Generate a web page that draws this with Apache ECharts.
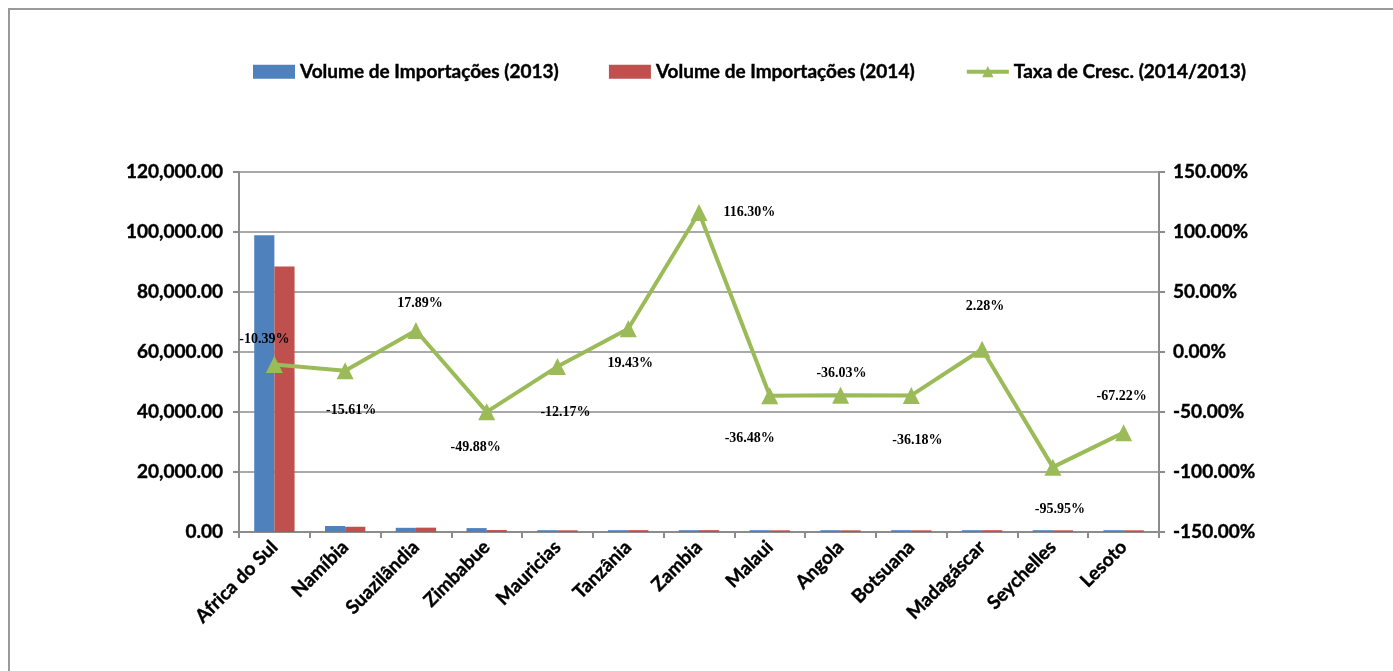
<!DOCTYPE html>
<html>
<head>
<meta charset="utf-8">
<script src="https://cdn.jsdelivr.net/npm/echarts@6/dist/echarts.min.js"></script>
<style>
  html, body { margin: 0; padding: 0; background: #fff; }
  #chart { width: 1393px; height: 671px; }
</style>
</head>
<body>
<div id="chart"></div>
<script>
// categorias (países)
const paises = ["Africa do Sul", "Namíbia", "Suazilândia", "Zimbabue", "Mauricias", "Tanzânia",
  "Zambia", "Malaui", "Angola", "Botsuana", "Madagáscar", "Seychelles", "Lesoto"];
// volume de importações
const vol2013 = [98900, 2000, 1400, 1300, 600, 600, 600, 600, 600, 600, 600, 600, 600];
const vol2014 = [88500, 1750, 1450, 650, 560, 620, 620, 560, 560, 560, 600, 560, 560];
// taxa de crescimento (%)
const taxa = [-10.39, -15.61, 17.89, -49.88, -12.17, 19.43, 116.30, -36.48, -36.03, -36.18, 2.28, -95.95, -67.22];
// posição dos rótulos da linha
const labelPos = [
  { position: "top", distance: 10, offset: [-10, 0] },
  { position: "bottom", distance: 24, offset: [6, 0] },
  { position: "top", distance: 12, offset: [4, 0] },
  { position: "bottom", distance: 20, offset: [-11, 0] },
  { position: "bottom", distance: 30, offset: [8, 0] },
  { position: "bottom", distance: 19, offset: [2, 0] },
  { position: "right", distance: 16, offset: [0, 0] },
  { position: "bottom", distance: 27, offset: [-20, 0] },
  { position: "top", distance: 6, offset: [1, 0] },
  { position: "bottom", distance: 29, offset: [6, 0] },
  { position: "top", distance: 27, offset: [3, 0] },
  { position: "bottom", distance: 27, offset: [7, 0] },
  { position: "top", distance: 21, offset: [-2, 0] }
];

const axisFont = {
  fontFamily: "Lato", fontWeight: "bold", fontSize: 19, color: "#000",
  textBorderColor: "#000", textBorderWidth: 0.4
};
const gray = "#8c8c8c";

const chart = echarts.init(document.getElementById("chart"));
chart.setOption({
  animation: false,
  graphic: [{
    type: "rect",
    shape: { x: 9, y: 9, width: 1420, height: 700 },
    style: { fill: "none", stroke: "#9a9a9a", lineWidth: 2 },
    silent: true
  }],
  legend: {
    top: 57,
    left: 248,
    itemGap: 50,
    itemWidth: 42,
    itemHeight: 14,
    textStyle: {
      fontFamily: "Lato", fontWeight: "bold", fontSize: 19, color: "#000",
      textBorderColor: "#000", textBorderWidth: 0.4
    },
    data: [
      { name: "Volume de Importações (2013)", icon: "rect" },
      { name: "Volume de Importações (2014)", icon: "rect" },
      { name: "Taxa de Cresc. (2014/2013)", lineStyle: { width: 4 } }
    ]
  },
  grid: { left: 239, right: 234, top: 172, bottom: 139 },
  xAxis: {
    type: "category",
    data: paises,
    axisLine: { lineStyle: { color: gray, width: 2 } },
    axisTick: { show: true, length: 6, lineStyle: { color: gray, width: 2 } },
    axisLabel: Object.assign({ rotate: 45, margin: 12, interval: 0 }, axisFont)
  },
  yAxis: [
    {
      type: "value",
      min: 0, max: 120000, interval: 20000,
      axisLine: { show: true, lineStyle: { color: gray, width: 2 } },
      axisTick: { show: true, length: 6, lineStyle: { color: gray, width: 2 } },
      splitLine: { lineStyle: { color: gray, width: 1.5 } },
      axisLabel: Object.assign({
        margin: 16,
        formatter: (v) => v.toLocaleString("en-US", { minimumFractionDigits: 2, maximumFractionDigits: 2 })
      }, axisFont)
    },
    {
      type: "value",
      min: -150, max: 150, interval: 50,
      axisLine: { show: true, lineStyle: { color: gray, width: 2 } },
      axisTick: { show: true, length: 6, lineStyle: { color: gray, width: 2 } },
      splitLine: { show: false },
      axisLabel: Object.assign({ margin: 14, formatter: (v) => v.toFixed(2) + "%" }, axisFont)
    }
  ],
  series: [
    {
      name: "Volume de Importações (2013)",
      type: "bar",
      data: vol2013,
      barGap: "0%",
      barCategoryGap: "43%",
      itemStyle: { color: "#4F81BD" }
    },
    {
      name: "Volume de Importações (2014)",
      type: "bar",
      data: vol2014,
      itemStyle: { color: "#C0504D" }
    },
    {
      name: "Taxa de Cresc. (2014/2013)",
      type: "line",
      yAxisIndex: 1,
      data: taxa.map((v, i) => ({ value: v, label: labelPos[i] })),
      symbol: "triangle",
      symbolSize: 17,
      lineStyle: { color: "#9BBB59", width: 4 },
      itemStyle: { color: "#9BBB59" },
      label: {
        show: true,
        fontFamily: "Liberation Serif",
        fontWeight: "bold",
        fontSize: 14,
        color: "#000",
        formatter: (p) => p.value.toFixed(2) + "%"
      },
      z: 5
    }
  ]
});
</script>
</body>
</html>
